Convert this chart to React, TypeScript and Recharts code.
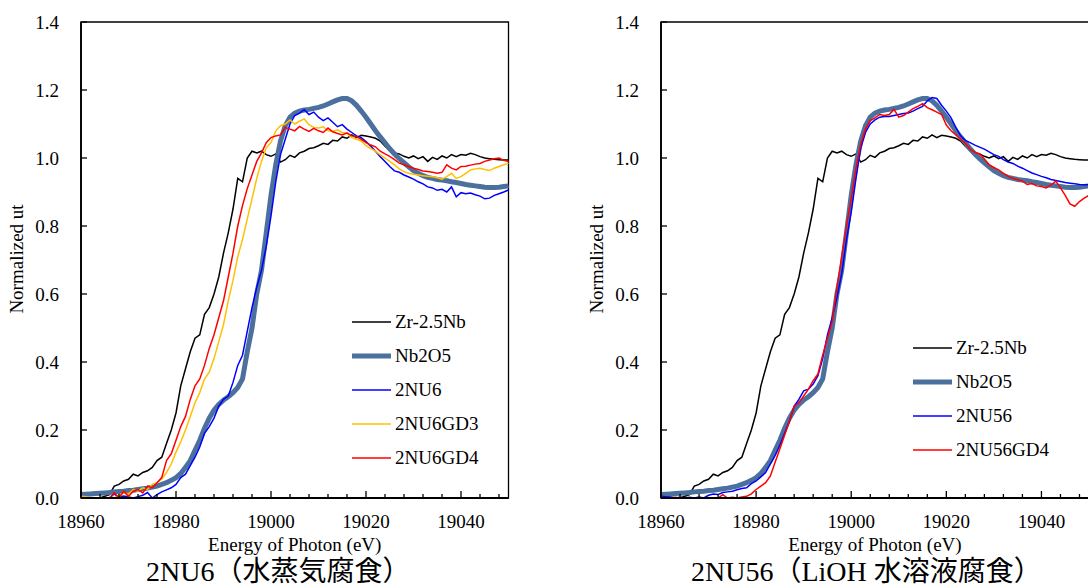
import { LineChart, Line, XAxis, YAxis, Legend, ReferenceArea } from "recharts";

const FONT = '"Liberation Serif", "Times New Roman", "Noto Sans CJK JP", serif';

// photon energy grid (eV)
const energy = [
  18960, 18961, 18962, 18963, 18964, 18965, 18966, 18967, 18968, 18969,
  18970, 18971, 18972, 18973, 18974, 18975, 18976, 18977, 18978, 18979,
  18980, 18981, 18982, 18983, 18984, 18985, 18986, 18987, 18988, 18989,
  18990, 18991, 18992, 18993, 18994, 18995, 18996, 18997, 18998, 18999,
  19000, 19001, 19002, 19003, 19004, 19005, 19006, 19007, 19008, 19009,
  19010, 19011, 19012, 19013, 19014, 19015, 19016, 19017, 19018, 19019,
  19020, 19021, 19022, 19023, 19024, 19025, 19026, 19027, 19028, 19029,
  19030, 19031, 19032, 19033, 19034, 19035, 19036, 19037, 19038, 19039,
  19040, 19041, 19042, 19043, 19044, 19045, 19046, 19047, 19048, 19049,
  19050,
];

const zr25nb = [
  0, 0, 0, 0, 0, 0.005, 0.01, 0.035, 0.04, 0.05,
  0.055, 0.07, 0.065, 0.075, 0.08, 0.09, 0.11, 0.12, 0.16, 0.2,
  0.25, 0.33, 0.38, 0.43, 0.47, 0.48, 0.54, 0.56, 0.6, 0.65,
  0.72, 0.78, 0.85, 0.94, 0.93, 1.0, 1.02, 1.015, 1.02, 1.01,
  1.005, 1.012, 0.988, 0.995, 1.008, 1.002, 1.015, 1.02, 1.028, 1.03,
  1.036, 1.043, 1.04, 1.052, 1.05, 1.062, 1.058, 1.068, 1.06, 1.067,
  1.065, 1.062, 1.058, 1.05, 1.035, 1.022, 1.015, 1.012, 1.005, 1.0,
  1.006, 0.998, 1.004, 0.99, 1.002, 0.996, 1.006, 1.0, 1.01, 1.004,
  1.01, 1.008, 1.014, 1.01, 1.004, 1.0, 0.998, 0.996, 0.995, 0.994,
  0.994,
];

const nb2o5 = [
  0.01, 0.011, 0.012, 0.013, 0.014, 0.015, 0.016, 0.018, 0.019, 0.02,
  0.022, 0.023, 0.025, 0.027, 0.029, 0.032, 0.035, 0.04, 0.045, 0.052,
  0.06, 0.072, 0.09, 0.11, 0.14, 0.17, 0.205, 0.235, 0.258, 0.275,
  0.288, 0.298, 0.31, 0.325, 0.35, 0.43, 0.5, 0.6, 0.67, 0.78,
  0.89, 0.98, 1.05, 1.095, 1.12, 1.132, 1.138, 1.141, 1.143, 1.146,
  1.149, 1.153, 1.159, 1.165, 1.171, 1.175, 1.175, 1.168, 1.155, 1.138,
  1.12, 1.1, 1.08, 1.062, 1.045, 1.027, 1.012, 0.998, 0.986, 0.974,
  0.963, 0.955, 0.948, 0.943, 0.94, 0.937, 0.935, 0.933, 0.93, 0.928,
  0.925, 0.922, 0.92, 0.918, 0.916, 0.914, 0.913, 0.913, 0.914, 0.916,
  0.918,
];

const nu6 = [
  0, 0, 0, 0, 0, 0, 0, 0.012, 0.002, 0.006,
  0.003, 0, 0.004, 0.008, 0.016, 0, 0.01, 0.018, 0.024, 0.03,
  0.04, 0.06, 0.07, 0.095, 0.12, 0.15, 0.19, 0.21, 0.235, 0.27,
  0.29, 0.3, 0.34, 0.39, 0.42, 0.49, 0.56, 0.62, 0.67, 0.74,
  0.83, 0.93, 1.01, 1.055, 1.1, 1.125, 1.132, 1.142, 1.128, 1.135,
  1.12, 1.11, 1.118, 1.105, 1.092, 1.098, 1.085, 1.075, 1.065, 1.06,
  1.048, 1.035, 1.02, 1.004, 0.99, 0.975, 0.962, 0.958, 0.95, 0.944,
  0.938, 0.93, 0.924, 0.915, 0.912, 0.905, 0.908, 0.9, 0.915, 0.886,
  0.898, 0.895, 0.897, 0.892, 0.888, 0.88, 0.882, 0.89, 0.895, 0.9,
  0.906,
];

const nu6gd3 = [
  0.005, 0.004, 0, 0, 0, 0, 0, 0, 0.008, 0.015,
  0.012, 0.025, 0.02, 0.03, 0.025, 0.04, 0.045, 0.055, 0.075, 0.1,
  0.135, 0.165, 0.2, 0.24, 0.28, 0.31, 0.35, 0.37, 0.41, 0.46,
  0.51, 0.58, 0.64, 0.71, 0.76, 0.82, 0.88, 0.94, 0.99, 1.03,
  1.045, 1.08, 1.095, 1.1, 1.112, 1.1, 1.108, 1.115, 1.098, 1.09,
  1.088, 1.092, 1.08, 1.078, 1.083, 1.075, 1.072, 1.06, 1.055, 1.05,
  1.036, 1.028, 1.02, 1.009, 1.0, 0.99, 0.98, 0.968, 0.96, 0.955,
  0.952, 0.95, 0.948, 0.946, 0.945, 0.942, 0.938, 0.945, 0.955, 0.94,
  0.945, 0.955, 0.965, 0.968, 0.97, 0.966, 0.963, 0.97, 0.975, 0.98,
  0.985,
];

const nu6gd4 = [
  0, 0, 0, 0, 0, 0, 0, 0.015, 0, 0.02,
  0.005, 0.02, 0.025, 0.015, 0.035, 0.03, 0.045, 0.06, 0.11, 0.13,
  0.17, 0.21, 0.24, 0.29, 0.33, 0.35, 0.39, 0.44, 0.48, 0.53,
  0.58, 0.65, 0.72, 0.8, 0.86, 0.91, 0.95, 0.99, 1.015, 1.045,
  1.06, 1.065, 1.068, 1.09, 1.085, 1.08, 1.093, 1.085, 1.078, 1.087,
  1.08, 1.075, 1.088, 1.077, 1.072, 1.068, 1.074, 1.065, 1.063, 1.055,
  1.045, 1.038, 1.033, 1.02, 1.012, 1.005, 0.995, 0.985, 0.98, 0.975,
  0.97, 0.966, 0.962, 0.96, 0.958, 0.955, 0.958, 0.98, 0.97, 0.965,
  0.975, 0.976, 0.979, 0.982, 0.984, 0.99, 0.994, 0.998, 1.0, 0.993,
  0.99,
];

const nu56 = [
  0.005, 0.004, 0.003, 0, 0.002, 0, 0.002, 0, 0.003, 0,
  0.008, 0.012, 0.01, 0.016, 0.018, 0.02, 0.024, 0.028, 0.03, 0.042,
  0.05, 0.062, 0.075, 0.1, 0.125, 0.155, 0.19, 0.225, 0.27, 0.29,
  0.315, 0.32, 0.335, 0.36, 0.41, 0.48, 0.53, 0.59, 0.66, 0.76,
  0.84, 0.94, 1.03, 1.075, 1.1, 1.112, 1.12, 1.122, 1.122, 1.125,
  1.128, 1.131, 1.132, 1.138, 1.145, 1.152, 1.168, 1.178, 1.175, 1.155,
  1.138, 1.118, 1.09, 1.065, 1.052, 1.045, 1.038, 1.032, 1.026, 1.018,
  1.01, 1.005, 0.995, 0.988, 0.984, 0.976, 0.97, 0.963, 0.956, 0.951,
  0.946, 0.942, 0.937, 0.934, 0.931, 0.928, 0.926, 0.924, 0.922, 0.921,
  0.921,
];

const nu56gd4 = [
  0.002, 0, 0, 0.002, 0, 0, 0, 0, 0, 0,
  0, 0, 0, 0.01, 0, 0.002, 0, 0.003, 0.005, 0.012,
  0.025, 0.035, 0.045, 0.065, 0.105, 0.145, 0.185, 0.225, 0.27, 0.28,
  0.3, 0.32, 0.345, 0.365, 0.42, 0.47, 0.52, 0.62, 0.71, 0.8,
  0.88, 0.97, 1.04, 1.085, 1.11, 1.118, 1.128, 1.125, 1.128, 1.143,
  1.12, 1.125, 1.135, 1.145, 1.152, 1.16, 1.148, 1.142, 1.135, 1.128,
  1.097, 1.08, 1.068, 1.055, 1.043, 1.025, 1.017, 1.012, 0.997, 0.98,
  0.972, 0.965, 0.955, 0.946, 0.94, 0.936, 0.932, 0.922, 0.925, 0.918,
  0.916, 0.912, 0.92, 0.932, 0.912, 0.89, 0.865, 0.858, 0.872, 0.882,
  0.89,
];

const xTicks = [
  18960, 18964, 18968, 18972, 18976, 18980, 18984, 18988, 18992, 18996,
  19000, 19004, 19008, 19012, 19016, 19020, 19024, 19028, 19032, 19036,
  19040, 19044, 19048,
];
const yTicks = [0, 0.2, 0.4, 0.6, 0.8, 1.0, 1.2, 1.4];

const rows = energy.map((e, i) => ({
  e,
  zr: zr25nb[i],
  nb: nb2o5[i],
  nu6: nu6[i],
  gd3: nu6gd3[i],
  gd4: nu6gd4[i],
  nu56: nu56[i],
  gd56: nu56gd4[i],
}));

type Series = { key: string; name: string; color: string; width: number };

const STEEL = "#4b709e";

const leftSeries: Series[] = [
  { key: "zr", name: "Zr-2.5Nb", color: "#000000", width: 1.5 },
  { key: "nb", name: "Nb2O5", color: STEEL, width: 5 },
  { key: "nu6", name: "2NU6", color: "#0000ff", width: 1.5 },
  { key: "gd3", name: "2NU6GD3", color: "#ffc000", width: 1.5 },
  { key: "gd4", name: "2NU6GD4", color: "#ff0000", width: 1.5 },
];

const rightSeries: Series[] = [
  { key: "zr", name: "Zr-2.5Nb", color: "#000000", width: 1.5 },
  { key: "nb", name: "Nb2O5", color: STEEL, width: 5 },
  { key: "nu56", name: "2NU56", color: "#0000ff", width: 1.5 },
  { key: "gd56", name: "2NU56GD4", color: "#ff0000", width: 1.5 },
];

function XTick(props: any) {
  const { x, y, payload } = props;
  const major = payload.value % 20 === 0;
  return (
    <g>
      <line x1={x} x2={x} y1={y} y2={y - (major ? 7 : 4)} stroke="#000" strokeWidth={1.3} />
      {major && (
        <text x={x} y={y + 30} textAnchor="middle" fontFamily={FONT} fontSize={19} fill="#000">
          {payload.value}
        </text>
      )}
    </g>
  );
}

function YTick(props: any) {
  const { x, y, payload } = props;
  return (
    <g>
      <line x1={x} x2={x + 6} y1={y} y2={y} stroke="#000" strokeWidth={1.3} />
      <text x={x - 22} y={y + 6.5} textAnchor="end" fontFamily={FONT} fontSize={19} fill="#000">
        {payload.value.toFixed(1)}
      </text>
    </g>
  );
}

function LegendRows({ series }: { series: Series[] }) {
  return (
    <div style={{ fontFamily: FONT, fontSize: 19, color: "#000" }}>
      {series.map((s) => (
        <div key={s.key} style={{ display: "flex", alignItems: "center", height: 34 }}>
          <svg width={40} height={34}>
            <line x1={0} x2={39} y1={17} y2={17} stroke={s.color} strokeWidth={s.width} />
          </svg>
          <span style={{ marginLeft: 3, whiteSpace: "nowrap" }}>{s.name}</span>
        </div>
      ))}
    </div>
  );
}

type PanelProps = {
  left: number;
  width: number;
  marginRight: number;
  series: Series[];
  legendTop: number;
  legendLeft: number;
  title: string;
  titleLeft: number;
};

function Panel({ left, width, marginRight, series, legendTop, legendLeft, title, titleLeft }: PanelProps) {
  const plotCenter = (81 + width - marginRight) / 2;
  return (
    <div style={{ position: "absolute", left, top: 0, width, height: 588 }}>
      <LineChart
        width={width}
        height={588}
        data={rows}
        margin={{ top: 22, right: marginRight, bottom: 60, left: 41 }}
      >
        <ReferenceArea x1={18960} x2={19050} y1={0} y2={1.4} fill="none" stroke="#000" strokeWidth={1.3} />
        <XAxis
          dataKey="e"
          type="number"
          domain={[18960, 19050]}
          ticks={xTicks}
          interval={0}
          height={30}
          tickSize={0}
          tickMargin={0}
          tickLine={false}
          axisLine={{ stroke: "#000", strokeWidth: 1.8 }}
          tick={<XTick />}
        />
        <YAxis
          type="number"
          domain={[0, 1.4]}
          ticks={yTicks}
          interval={0}
          width={40}
          tickSize={0}
          tickMargin={0}
          tickLine={false}
          axisLine={{ stroke: "#000", strokeWidth: 1.8 }}
          tick={<YTick />}
        />
        <Legend
          layout="vertical"
          align="center"
          verticalAlign="middle"
          wrapperStyle={{ left: legendLeft, top: legendTop, width: 180 }}
          content={() => <LegendRows series={series} />}
        />
        {series.map((s) => (
          <Line
            key={s.key}
            dataKey={s.key}
            name={s.name}
            type="linear"
            stroke={s.color}
            strokeWidth={s.width}
            dot={false}
            activeDot={false}
            isAnimationActive={false}
          />
        ))}
      </LineChart>
      <div
        style={{
          position: "absolute",
          left: 17 - 100,
          top: 259 - 11,
          width: 200,
          height: 22,
          lineHeight: "22px",
          textAlign: "center",
          transform: "rotate(-90deg)",
          fontFamily: FONT,
          fontSize: 19,
          whiteSpace: "nowrap",
        }}
      >
        Normalized ut
      </div>
      <div
        style={{
          position: "absolute",
          left: plotCenter - 150,
          top: 534,
          width: 300,
          lineHeight: "22px",
          textAlign: "center",
          fontFamily: FONT,
          fontSize: 19,
          whiteSpace: "nowrap",
        }}
      >
        Energy of Photon (eV)
      </div>
      <div
        style={{
          position: "absolute",
          left: titleLeft,
          top: 557,
          lineHeight: "30px",
          fontFamily: FONT,
          fontSize: 28,
          whiteSpace: "nowrap",
        }}
      >
        {title}
      </div>
    </div>
  );
}

export default function App() {
  return (
    <div
      style={{
        position: "absolute",
        left: 0,
        top: 0,
        width: 1088,
        height: 588,
        overflow: "hidden",
        background: "#fff",
      }}
    >
      <Panel
        left={0}
        width={540}
        marginRight={31.5}
        series={leftSeries}
        legendLeft={352}
        legendTop={305}
        title="2NU6（水蒸気腐食）"
        titleLeft={146}
      />
      <Panel
        left={580}
        width={512}
        marginRight={3}
        series={rightSeries}
        legendLeft={333}
        legendTop={331}
        title="2NU56（LiOH 水溶液腐食）"
        titleLeft={111}
      />
    </div>
  );
}
